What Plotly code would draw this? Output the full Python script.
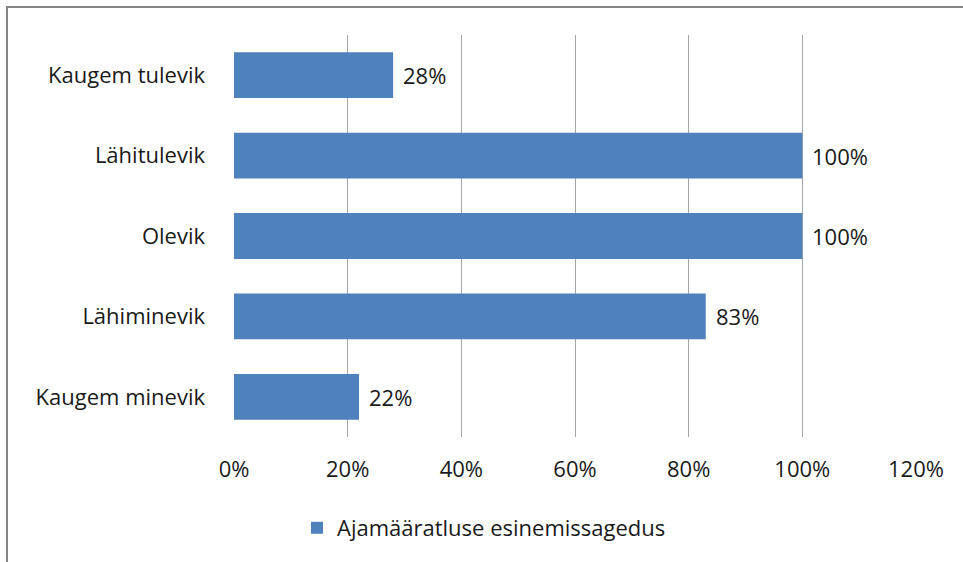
import plotly.graph_objects as go

categories = ['Kaugem minevik', 'Lähiminevik', 'Olevik', 'Lähitulevik', 'Kaugem tulevik']
values = [0.22, 0.83, 1.00, 1.00, 0.28]
labels = ['22%', '83%', '100%', '100%', '28%']
series_name = 'Ajamääratluse esinemissagedus'
x_ticks = [0, 0.2, 0.4, 0.6, 0.8, 1.0, 1.2]
x_ticktext = ['0%', '20%', '40%', '60%', '80%', '100%', '120%']

bar_color = '#4F81BD'
font_family = 'Open Sans, Noto Sans, sans-serif'
text_color = '#1a1a1a'
fsize = 22

fig = go.Figure()
fig.add_trace(go.Bar(
    y=categories, x=values, orientation='h',
    marker=dict(color=bar_color, line=dict(width=0)),
    name=series_name, showlegend=True,
))

# data labels just right of the bar ends
for c, v, t in zip(categories, values, labels):
    fig.add_annotation(x=v, y=c, text=t, showarrow=False,
                       xanchor='left', xshift=8,
                       font=dict(size=fsize, color=text_color, family=font_family))

# outer chart frame (pixel -> paper conversion for fixed margins)
W, H = 963, 562
ml, mr, mt, mb = 234, 47, 35, 125
pw, ph = W - ml - mr, H - mt - mb
fig.add_shape(type='rect', xref='paper', yref='paper',
              x0=(7 - ml) / pw, x1=(W + 20 - ml) / pw,
              y0=1 - (H + 20 - mt) / ph, y1=1 + (mt - 7) / ph,
              line=dict(color='#868686', width=2), fillcolor='rgba(0,0,0,0)',
              layer='below')

fig.update_layout(
    width=W, height=H,
    margin=dict(l=ml, r=mr, t=mt, b=mb),
    paper_bgcolor='white', plot_bgcolor='white',
    font=dict(family=font_family, size=fsize, color=text_color),
    bargap=0.43,
    xaxis=dict(range=[0, 1.2], tickvals=x_ticks, ticktext=x_ticktext,
               showgrid=True, gridcolor='#A6A6A6', gridwidth=1,
               zeroline=False, showline=False, ticks='',
               ticklabelstandoff=17, tickfont=dict(size=fsize)),
    yaxis=dict(showgrid=False, zeroline=False, showline=False, ticks='',
               ticklabelstandoff=28, tickfont=dict(size=fsize)),
    legend=dict(orientation='h', x=(484 - ml) / pw, xanchor='center',
                y=(437 - 528) / ph, yanchor='middle',
                font=dict(size=fsize), itemwidth=30),
)

fig.write_html("out.html", config={'displayModeBar': False},
               post_script="document.body.style.margin='0';")
